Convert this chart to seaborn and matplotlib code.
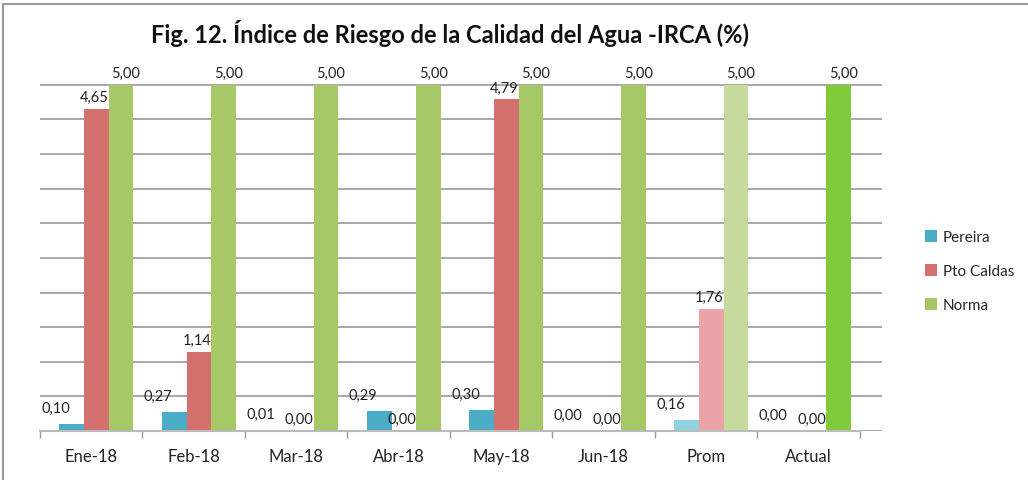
import numpy as np
import seaborn as sns
import matplotlib.pyplot as plt
import pandas as pd
from matplotlib.lines import Line2D

categories = ['Ene-18', 'Feb-18', 'Mar-18', 'Abr-18', 'May-18', 'Jun-18', 'Prom', 'Actual']
pereira = [0.10, 0.27, 0.01, 0.29, 0.30, 0.00, 0.16, 0.00]
pto_caldas = [4.65, 1.14, 0.00, 0.00, 4.79, 0.00, 1.76, 0.00]
norma = [5.00, 5.00, 5.00, 5.00, 5.00, 5.00, 5.00, 5.00]
series = ['Pereira', 'Pto Caldas', 'Norma']
colors = ['#4BACC6', '#D4706E', '#A6C866']
title = 'Fig. 12. Índice de Riesgo de la Calidad del Agua -IRCA (%)'

sns.set_theme(style='white')
plt.rcParams['font.family'] = ['Lato', 'DejaVu Sans']

df = pd.DataFrame({
    'cat': categories * 3,
    'serie': [s for s in series for _ in categories],
    'valor': pereira + pto_caldas + norma,
})

fig = plt.figure(figsize=(10.28, 4.81), dpi=100)
ax = fig.add_axes([0.0389, 0.1019, 0.819, 0.734])

sns.barplot(data=df, x='cat', y='valor', hue='serie', palette=colors,
            width=0.72, ax=ax, legend=True, saturation=1, linewidth=0)

# groups sit a bit right of the category centre in the original (3D look)
for p in ax.patches:
    p.set_x(p.get_x() + 0.05)

# lighter / brighter bars like the original
ax.containers[0][6].set_facecolor('#8FD3E3')
ax.containers[1][6].set_facecolor('#EBA3A8')
ax.containers[2][6].set_facecolor('#C6DA9E')
ax.containers[2][7].set_facecolor('#7FCB3C')

# data labels
offsets = [(-16, 16), (-2, 12), (5, 12)]
vals = [pereira, pto_caldas, norma]
for k, cont in enumerate(ax.containers):
    for bar, v in zip(cont, vals[k]):
        ax.annotate(f'{v:.2f}'.replace('.', ','),
                    (bar.get_x() + bar.get_width() / 2, bar.get_height()),
                    xytext=offsets[k], textcoords='offset pixels',
                    ha='center', va='center', fontsize=10.5, color='#222222')

ax.set_xlim(-0.5, 7.715)
ax.set_ylim(0, 5.1)
ax.set_yticks(np.arange(0, 5.01, 0.5))
ax.set_yticklabels([])
ax.yaxis.grid(True, color='#A8A8A8', linewidth=1.4)
ax.set_axisbelow(True)
ax.set_xlabel('')
ax.set_ylabel('')
for s in ['top', 'right', 'left']:
    ax.spines[s].set_visible(False)
ax.spines['bottom'].set_color('#BBBBBB')
ax.spines['bottom'].set_linewidth(1.5)
ax.spines['bottom'].set_bounds(-0.5, 7.5)
ax.set_xticks(np.arange(-0.5, 7.6, 1), minor=True)
ax.tick_params(axis='x', which='minor', length=5, color='#999999', direction='out', bottom=True)
ax.tick_params(axis='x', which='major', length=0, pad=12, labelsize=12, labelcolor='#222222')
ax.tick_params(axis='y', length=0)

leg = ax.legend(loc='center left', bbox_to_anchor=(0.886, 0.434),
                bbox_transform=fig.transFigure, frameon=False, fontsize=11,
                handlelength=0.8, handleheight=0.8, handletextpad=0.4,
                labelspacing=1.3)

fig.text(0.438, 0.931, title, ha='center', va='center', fontsize=17,
         fontweight='bold', color='#111111')

# outer frame (left and top edges visible in the original)
fig.add_artist(Line2D([0.003, 0.003], [0.0, 0.989], color='#999999', lw=1.5,
                      transform=fig.transFigure))
fig.add_artist(Line2D([0.003, 1.0], [0.989, 0.989], color='#999999', lw=1.5,
                      transform=fig.transFigure))

fig.savefig('out.png', dpi=100)
